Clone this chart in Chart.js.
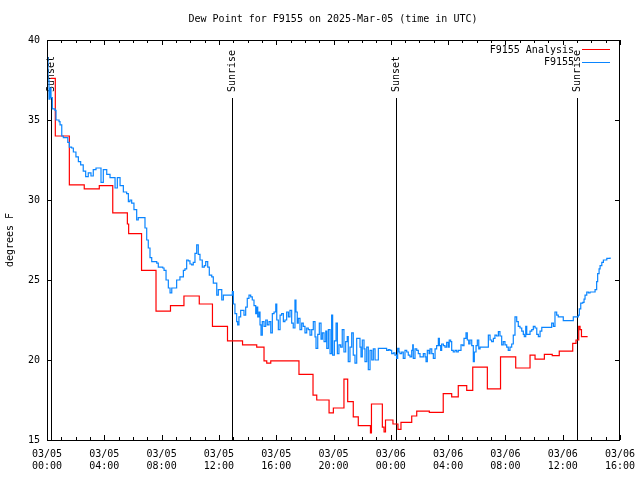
<!DOCTYPE html>
<html>
<head>
<meta charset="utf-8">
<title>Dew Point for F9155</title>
<script src="https://cdn.jsdelivr.net/npm/chart.js@4/dist/chart.umd.min.js"></script>
<style>
  html, body { margin: 0; padding: 0; background: #fff; }
  canvas { display: block; }
</style>
</head>
<body>
<canvas id="dewChart" width="640" height="480"></canvas>
<script>
// hours since 2025-03-05 00:00 UTC
const seriesNames = ['F9155 Analysis', 'F9155'];

const analysisHours = [0.26, 0.58, 1.56, 2.60, 3.65, 4.59, 5.61, 5.70, 6.60, 7.61, 8.62, 9.56, 10.63, 11.55,
  12.60, 13.65, 14.64, 15.15, 15.34, 15.62, 17.59, 18.57, 18.83, 19.69, 19.99, 20.73, 20.99, 21.38, 21.73,
  22.58, 22.65, 23.41, 23.53, 23.63, 24.15, 24.50, 24.71, 25.46, 25.81, 26.69, 27.66, 28.25, 28.71, 29.30,
  29.72, 30.74, 31.66, 32.72, 33.72, 34.07, 34.72, 35.27, 35.76, 36.70, 36.93, 37.12, 37.21, 37.31, 37.74];
const analysisDew = [37.6, 34.0, 30.94, 30.7, 30.9, 29.2, 28.5, 27.9, 25.6, 23.06, 23.4, 24.0, 23.5, 22.1,
  21.2, 20.94, 20.8, 19.94, 19.8, 19.94, 19.1, 17.8, 17.5, 16.7, 17.0, 18.8, 17.4, 16.45, 15.9,
  15.45, 17.25, 15.8, 15.5, 16.25, 16.0, 15.67, 16.1, 16.5, 16.8, 16.73, 17.9, 17.7, 18.4, 18.1,
  19.55, 18.2, 20.2, 19.5, 20.3, 20.06, 20.35, 20.27, 20.56, 21.04, 21.25, 22.1, 21.9, 21.46, 21.46];

const stationHours = [0.00, 0.07, 0.14, 0.21, 0.28, 0.37, 0.56, 0.63, 0.84, 0.91, 1.03, 1.14, 1.45, 1.56,
  1.72, 1.84, 2.02, 2.19, 2.35, 2.53, 2.70, 2.88, 3.07, 3.23, 3.42, 3.77, 3.93, 4.17, 4.40, 4.75, 4.91,
  5.10, 5.33, 5.56, 5.68, 5.79, 5.91, 6.07, 6.26, 6.37, 6.84, 6.96, 7.07, 7.19, 7.31, 7.66, 7.77, 8.08,
  8.17, 8.31, 8.47, 8.59, 8.71, 9.05, 9.28, 9.52, 9.63, 9.75, 9.86, 9.98, 10.10, 10.21, 10.33, 10.45,
  10.56, 10.68, 10.84, 10.98, 11.08, 11.22, 11.33, 11.50, 11.61, 11.85, 11.96, 12.20, 12.31, 12.94,
  13.01, 13.12, 13.24, 13.31, 13.40, 13.52, 13.75, 13.87, 13.98, 14.10, 14.22, 14.33, 14.45, 14.57,
  14.64, 14.71, 14.80, 14.87, 14.94, 15.03, 15.15, 15.27, 15.38, 15.50, 15.62, 15.73, 15.85, 15.97,
  16.04, 16.15, 16.27, 16.38, 16.50, 16.61, 16.73, 16.85, 16.96, 17.08, 17.19, 17.31, 17.38, 17.47,
  17.54, 17.66, 17.78, 17.89, 18.01, 18.13, 18.24, 18.36, 18.48, 18.59, 18.71, 18.78, 18.90, 19.01,
  19.13, 19.22, 19.34, 19.46, 19.53, 19.64, 19.76, 19.87, 19.94, 20.06, 20.18, 20.27, 20.38, 20.50,
  20.61, 20.73, 20.85, 20.96, 21.03, 21.15, 21.27, 21.38, 21.50, 21.62, 21.85, 21.92, 22.01, 22.13,
  22.20, 22.32, 22.43, 22.55, 22.67, 22.78, 22.90, 23.13, 23.71, 23.83, 23.94, 24.06, 24.18, 24.29,
  24.41, 24.48, 24.57, 24.64, 24.76, 24.87, 24.99, 25.11, 25.22, 25.34, 25.46, 25.53, 25.57, 25.69,
  25.81, 25.92, 26.04, 26.27, 26.39, 26.46, 26.55, 26.67, 26.74, 26.86, 26.97, 27.09, 27.20, 27.32,
  27.39, 27.48, 27.55, 27.67, 27.78, 27.90, 28.01, 28.08, 28.18, 28.25, 28.36, 28.48, 28.60, 28.71,
  28.90, 29.02, 29.11, 29.25, 29.34, 29.44, 29.53, 29.65, 29.76, 29.83, 29.95, 30.04, 30.14, 30.23,
  30.81, 30.93, 31.04, 31.16, 31.27, 31.39, 31.51, 31.62, 31.74, 31.85, 31.97, 32.09, 32.20, 32.32,
  32.44, 32.55, 32.67, 32.79, 32.90, 33.02, 33.14, 33.25, 33.32, 33.42, 33.49, 33.72, 33.84, 33.95,
  34.07, 34.19, 34.30, 34.42, 34.54, 35.23, 35.35, 35.46, 35.58, 35.69, 36.04, 36.74, 37.09, 37.16,
  37.26, 37.40, 37.49, 37.56, 37.68, 37.79, 37.91, 38.26, 38.37, 38.44, 38.54, 38.61, 38.73, 38.84,
  39.08, 39.31];
const stationDew = [38.9, 37.5, 36.3, 37.0, 36.4, 35.7, 35.6, 35.0, 34.9, 34.7, 34.0, 33.9, 33.6, 33.3,
  33.25, 33.0, 32.7, 32.4, 32.2, 31.8, 31.46, 31.7, 31.5, 31.9, 32.0, 31.1, 31.9, 31.6, 31.4, 30.75, 31.4,
  30.9, 30.5, 30.4, 29.9, 30.0, 29.8, 29.4, 28.75, 28.9, 28.25, 27.5, 27.0, 26.4, 26.15, 26.06, 25.8, 25.75,
  25.6, 25.0, 24.5, 24.2, 24.5, 25.0, 25.2, 25.6, 25.7, 26.25, 26.2, 26.0, 25.94, 26.1, 26.67, 27.2,
  26.6, 26.25, 25.8, 25.9, 26.15, 25.8, 25.3, 25.2, 24.8, 24.06, 24.4, 23.75, 24.06, 24.27,
  23.5, 22.9, 22.4, 22.2, 22.7, 23.1, 22.8, 23.3, 23.85, 24.06, 23.95, 23.75, 23.4, 22.9,
  23.3, 22.7, 23.0, 22.2, 21.56, 22.4, 22.1, 22.5, 22.2, 22.4, 21.7, 22.9, 23.0, 23.5,
  22.5, 21.9, 22.8, 22.9, 22.4, 22.5, 23.0, 22.7, 23.1, 22.3, 22.0, 23.75, 23.0, 22.3,
  22.6, 21.9, 22.3, 22.1, 21.7, 22.0, 21.9, 21.56, 21.9, 22.4, 21.45, 20.73, 21.6, 22.3,
  21.3, 21.7, 21.15, 21.8, 20.73, 21.9, 20.4, 22.8, 20.3, 21.2, 22.3, 20.4, 20.94, 20.8,
  21.9, 20.5, 21.15, 21.46, 19.9, 20.8, 21.7, 20.3, 19.8, 21.35, 20.8, 20.2, 21.25, 20.7,
  19.9, 20.8, 19.4, 20.6, 20.0, 20.7, 20.0, 20.73, 20.6, 20.65, 20.6, 20.4, 20.45, 20.3,
  20.1, 20.73, 20.5, 20.4, 20.5, 20.1, 20.6, 20.5, 20.3, 20.2, 20.6, 20.94, 20.1, 20.7,
  20.6, 20.4, 20.2, 20.4, 20.2, 19.9, 20.6, 20.4, 20.7, 20.4, 20.1, 20.7, 20.9, 21.35,
  20.9, 20.6, 21.0, 20.9, 20.8, 21.1, 20.8, 21.25, 21.15, 20.6, 20.5, 20.6, 20.5, 20.6,
  20.94, 20.9, 21.35, 21.7, 21.25, 21.0, 21.25, 20.9, 19.9, 20.5, 20.9, 21.25, 20.7, 20.8,
  21.56, 21.25, 21.15, 21.35, 21.56, 21.5, 21.77, 21.5, 20.94, 21.15, 20.94, 20.8, 20.6, 20.8,
  21.0, 21.56, 22.7, 22.4, 22.1, 22.0, 21.8, 21.6, 21.46, 22.1, 21.6, 21.8, 21.9, 22.1,
  22.0, 21.6, 21.46, 21.8, 22.04, 22.3, 22.1, 23.0, 22.8, 22.7, 22.46, 22.7, 22.8, 23.2,
  23.55, 23.6, 23.8, 24.06, 24.25, 24.2, 24.25, 24.4, 24.9, 25.4, 25.7, 25.9, 26.1, 26.25,
  26.35, 26.4];

const eventHours = [0.28, 12.92, 24.36, 37.00];
const eventLabels = ['Sunset', 'Sunrise', 'Sunset', 'Sunrise'];

const xTickDates = ['03/05', '03/05', '03/05', '03/05', '03/05', '03/05', '03/06', '03/06', '03/06', '03/06', '03/06'];
const xTickTimes = ['00:00', '04:00', '08:00', '12:00', '16:00', '20:00', '00:00', '04:00', '08:00', '12:00', '16:00'];

const MONO = '"DejaVu Sans Mono", "Liberation Mono", monospace';
const FONT = '10px ' + MONO;
const RED = '#ff0000';
const BLUE = '#0a85ff';

const toPoints = (hs, vs) => hs.map((h, i) => ({ x: h, y: vs[i] }));

// gnuplot-ish frame: inward ticks on all four sides, title, legend, sun events
const frame = {
    id: 'frame',
    beforeDatasetsDraw(chart) {
        const { ctx, chartArea: a, scales: { x } } = chart;
        ctx.save();
        ctx.strokeStyle = '#000';
        ctx.lineWidth = 1;
        ctx.fillStyle = '#000';
        ctx.font = FONT;
        eventHours.forEach((h, i) => {
            const px = Math.round(x.getPixelForValue(h)) + 0.5;
            ctx.beginPath();
            ctx.moveTo(px, 98);
            ctx.lineTo(px, a.bottom);
            ctx.stroke();
            ctx.save();
            ctx.translate(px, 92);
            ctx.rotate(-Math.PI / 2);
            ctx.textAlign = 'left';
            ctx.textBaseline = 'middle';
            ctx.fillText(eventLabels[i], 0, 0);
            ctx.restore();
        });
        ctx.restore();
    },
    afterDraw(chart) {
        const { ctx, chartArea: a, scales: { x, y } } = chart;
        ctx.save();
        ctx.strokeStyle = '#000';
        ctx.lineWidth = 1;
        ctx.strokeRect(a.left + 0.5, a.top + 0.5, a.right - a.left - 1, a.bottom - a.top);

        ctx.beginPath();
        for (let h = 0; h <= 40; h++) {
            const px = Math.round(x.getPixelForValue(h)) + 0.5;
            const len = h % 4 === 0 ? 5 : 3;
            ctx.moveTo(px, a.bottom); ctx.lineTo(px, a.bottom - len);
            ctx.moveTo(px, a.top); ctx.lineTo(px, a.top + len);
        }
        for (let v = 15; v <= 40; v += 5) {
            const py = Math.round(y.getPixelForValue(v)) + 0.5;
            ctx.moveTo(a.left, py); ctx.lineTo(a.left + 5, py);
            ctx.moveTo(a.right, py); ctx.lineTo(a.right - 5, py);
        }
        ctx.stroke();

        ctx.fillStyle = '#000';
        ctx.font = FONT;
        ctx.textAlign = 'center';
        ctx.textBaseline = 'middle';
        ctx.fillText('Dew Point for F9155 on 2025-Mar-05 (time in UTC)', 333, 19);

        // legend
        const colors = [RED, BLUE];
        seriesNames.forEach((name, i) => {
            const ly = 50 + i * 12.5;
            ctx.fillStyle = '#000';
            ctx.textAlign = 'right';
            ctx.fillText(name, 574, ly);
            ctx.strokeStyle = colors[i];
            ctx.beginPath();
            ctx.moveTo(582, Math.round(ly) - 0.5);
            ctx.lineTo(610, Math.round(ly) - 0.5);
            ctx.stroke();
        });
        ctx.restore();
    }
};

new Chart(document.getElementById('dewChart').getContext('2d'), {
    type: 'line',
    data: {
        datasets: [{
            label: seriesNames[0],
            data: toPoints(analysisHours, analysisDew),
            borderColor: RED,
            borderWidth: 1.2,
            pointRadius: 0,
            stepped: true,
            order: 1
        }, {
            label: seriesNames[1],
            data: toPoints(stationHours, stationDew),
            borderColor: BLUE,
            borderWidth: 1.2,
            pointRadius: 0,
            stepped: true,
            order: 0
        }]
    },
    options: {
        responsive: false,
        animation: false,
        devicePixelRatio: 1,
        layout: { padding: { top: 40, right: 20, left: 0, bottom: 0 } },
        plugins: { legend: { display: false }, tooltip: { enabled: false } },
        scales: {
            x: {
                type: 'linear',
                min: 0,
                max: 40,
                grid: { display: false, drawTicks: false },
                border: { display: false },
                ticks: {
                    stepSize: 4,
                    autoSkip: false,
                    maxRotation: 0,
                    padding: 8,
                    color: '#000',
                    font: { family: MONO, size: 10 },
                    callback: (v) => [xTickDates[v / 4], xTickTimes[v / 4]]
                },
                afterFit: (s) => { s.height = 40; s.paddingLeft = 0; s.paddingRight = 0; }
            },
            y: {
                min: 15,
                max: 40,
                grid: { display: false, drawTicks: false },
                border: { display: false },
                title: { display: true, text: 'degrees F', color: '#000', font: { family: MONO, size: 10 }, padding: { top: 4, bottom: 4 } },
                ticks: {
                    stepSize: 5,
                    padding: 7,
                    color: '#000',
                    font: { family: MONO, size: 10 }
                },
                afterFit: (s) => { s.width = 47; }
            }
        }
    },
    plugins: [frame]
});
</script>
</body>
</html>
